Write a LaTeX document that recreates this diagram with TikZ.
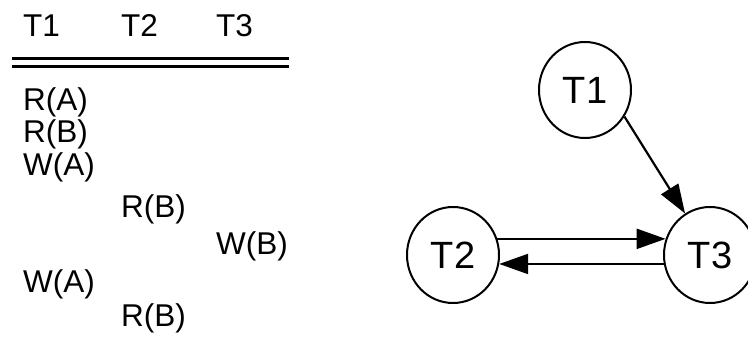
\documentclass[tikz,border=0pt]{standalone}
\usepackage{fontspec}
\setmainfont{Liberation Sans}
\usetikzlibrary{arrows.meta,shapes.geometric}
\begin{document}
\begin{tikzpicture}[x=1pt,y=-1pt,
  state/.style={draw, line width=2pt, ellipse, minimum width=92pt,
    minimum height=96pt, inner sep=0pt, font=\fontsize{38}{44}\selectfont},
  op/.style={anchor=base west, inner sep=0pt, font=\fontsize{31.5}{36}\selectfont},
  rule/.style={line width=3pt},
  edge/.style={line width=2.2pt, -{Triangle[length=29pt,width=20pt]}}]
\useasboundingbox (0,0) rectangle (748,339);

% schedule table: header, double rule, operations
\node[op] (h1) at (23,37) {T1};
\node[op] (h2) at (121,37) {T2};
\node[op] (h3) at (216,37) {T3};
\draw[rule] (12,58.5) -- (289,58.5);
\draw[rule] (12,67) -- (289,67);

\node[op] (o1) at (23,111) {R(A)};
\node[op] (o2) at (23,143) {R(B)};
\node[op] (o3) at (23,176) {W(A)};
\node[op] (o4) at (121,218) {R(B)};
\node[op] (o5) at (216,255) {W(B)};
\node[op] (o6) at (23,293) {W(A)};
\node[op] (o7) at (121,327) {R(B)};

% precedence graph
\node[state] (n1) at (585,90) {T1};
\node[state] (n2) at (453,255) {T2};
\node[state] (n3) at (710,255) {T3};
\draw[edge] (n1.-34) -- (n3.121);
\draw[edge] (n2.20) -- (n3.160);
\draw[edge] (n3.191) -- (n2.-11);
\end{tikzpicture}
\end{document}
